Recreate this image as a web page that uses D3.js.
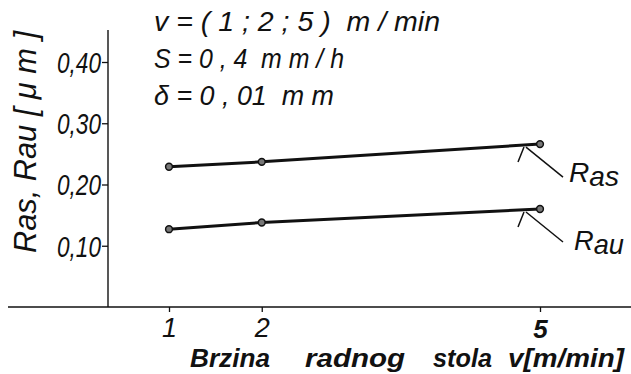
<!DOCTYPE html>
<html><head><meta charset="utf-8">
<script src="https://cdn.jsdelivr.net/npm/d3@7"></script>
<style>
html,body{margin:0;padding:0;background:#fff;}
svg{display:block;}
text{font-family:"Liberation Sans",Arial,sans-serif;font-style:italic;fill:#111;}
</style></head>
<body><svg id="c" width="631" height="374"></svg>
<script>
const xValues = [1, 2, 5];
const rasValues = [0.229, 0.237, 0.266];
const rauValues = [0.127, 0.138, 0.160];
const yTicks = [0.1, 0.2, 0.3, 0.4];
const yTickLabels = ["0,10", "0,20", "0,30", "0,40"];
const xTicks = [1, 2, 5];
const xTickLabels = ["1", "2", "5"];
const paramLines = ["v = ( 1 ; 2 ; 5 )  m / min", "S = 0 , 4  m m / h", "δ = 0 , 01  m m"];
const seriesNames = ["Ras", "Rau"];
const yTitle = "Ras, Rau [ μ m ]";
const xTitleWords = ["Brzina", "radnog", "stola", "v[m/min]"];

const svg = d3.select("#c");
const x = d3.scaleLinear().domain([1, 5]).range([169, 540]);
const y = d3.scaleLinear().domain([0, 0.4]).range([307, 62]);
const axisX = 108;

// x axis line
svg.append("line").attr("x1", 8).attr("x2", 631).attr("y1", y(0)).attr("y2", y(0))
  .attr("stroke", "#111").attr("stroke-width", 1.6);
// y axis line
svg.append("line").attr("x1", axisX).attr("x2", axisX).attr("y1", 30).attr("y2", y(0))
  .attr("stroke", "#111").attr("stroke-width", 1.4);

// y ticks
const yAxis = d3.axisLeft(y).tickValues(yTicks).tickSize(6).tickPadding(1)
  .tickFormat((d, i) => yTickLabels[i]);
const gy = svg.append("g").attr("transform", `translate(${axisX},0)`).call(yAxis);
gy.select(".domain").remove();
gy.attr("font-family", null).attr("font-size", null);
gy.selectAll("line").attr("stroke", "#111").attr("stroke-width", 1.3);
gy.selectAll("text").attr("font-size", 29).attr("fill", "#111")
  .attr("dy", "0.36em").attr("textLength", 44).attr("lengthAdjust", "spacingAndGlyphs");

// x ticks
const xAxis = d3.axisBottom(x).tickValues(xTicks).tickSize(5).tickPadding(4)
  .tickFormat((d, i) => xTickLabels[i]);
const gx = svg.append("g").attr("transform", `translate(0,${y(0)})`).call(xAxis);
gx.select(".domain").remove();
gx.attr("font-family", null).attr("font-size", null);
gx.selectAll("line").attr("stroke", "#111").attr("stroke-width", 1.3);
gx.selectAll("text").attr("font-size", (d) => d === 5 ? 26 : 27).attr("fill", "#111")
  .attr("dy", (d) => d === 5 ? "0.86em" : "0.77em")
  .attr("font-weight", (d) => d === 5 ? "bold" : "normal");

// series
const series = [rasValues, rauValues];
const line = d3.line().x((d, i) => x(xValues[i])).y(d => y(d));
series.forEach((vals, si) => {
  svg.append("path").attr("d", line(vals)).attr("fill", "none")
    .attr("stroke", "#111").attr("stroke-width", 3);
  svg.selectAll(null).data(vals).enter().append("circle")
    .attr("cx", (d, i) => x(xValues[i])).attr("cy", d => y(d)).attr("r", 3.4)
    .attr("fill", "#777").attr("stroke", "#111").attr("stroke-width", 1.5);
  // leader
  const lx = x(xValues[2]), ly = y(vals[2]);
  const ax = lx - 15, ay = ly + 3;
  svg.append("line").attr("x1", ax - 1).attr("y1", ay).attr("x2", ax - 7).attr("y2", ay + 15)
    .attr("stroke", "#111").attr("stroke-width", 1.5);
  svg.append("line").attr("x1", ax + 1).attr("y1", ay).attr("x2", ax + 38).attr("y2", ay + 30)
    .attr("stroke", "#111").attr("stroke-width", 1.5);
  const t = svg.append("text").attr("x", ax + 44 + si * 5).attr("y", ay + 35 + si * 3)
    .attr("font-size", 28).attr("textLength", 50).attr("lengthAdjust", "spacingAndGlyphs");
  t.append("tspan").text(seriesNames[si][0]);
  t.append("tspan").attr("dy", 4).text(seriesNames[si].slice(1));
});

// parameter lines
const parLen = [286, 190, 180];
svg.selectAll(".par").data(paramLines).enter().append("text")
  .attr("x", 154).attr("y", (d, i) => 31 + i * 37)
  .attr("font-size", 27)
  .attr("textLength", (d, i) => parLen[i]).attr("lengthAdjust", "spacingAndGlyphs")
  .style("white-space", "pre")
  .text(d => d);

// y title
svg.append("text").attr("transform", "translate(36,142) rotate(-90)")
  .attr("text-anchor", "middle").attr("font-size", 31)
  .attr("textLength", 222).attr("lengthAdjust", "spacingAndGlyphs")
  .style("white-space", "pre").text(yTitle);

// x title
const xTitleX = [190, 305, 433, 508];
const xTitleLen = [80, 100, 59, 116];
svg.selectAll(".xt").data(xTitleWords).enter().append("text")
  .attr("x", (d, i) => xTitleX[i]).attr("y", 367)
  .attr("font-size", 25).attr("font-weight", "bold")
  .attr("textLength", (d, i) => xTitleLen[i]).attr("lengthAdjust", "spacingAndGlyphs")
  .text(d => d);
</script></body></html>
